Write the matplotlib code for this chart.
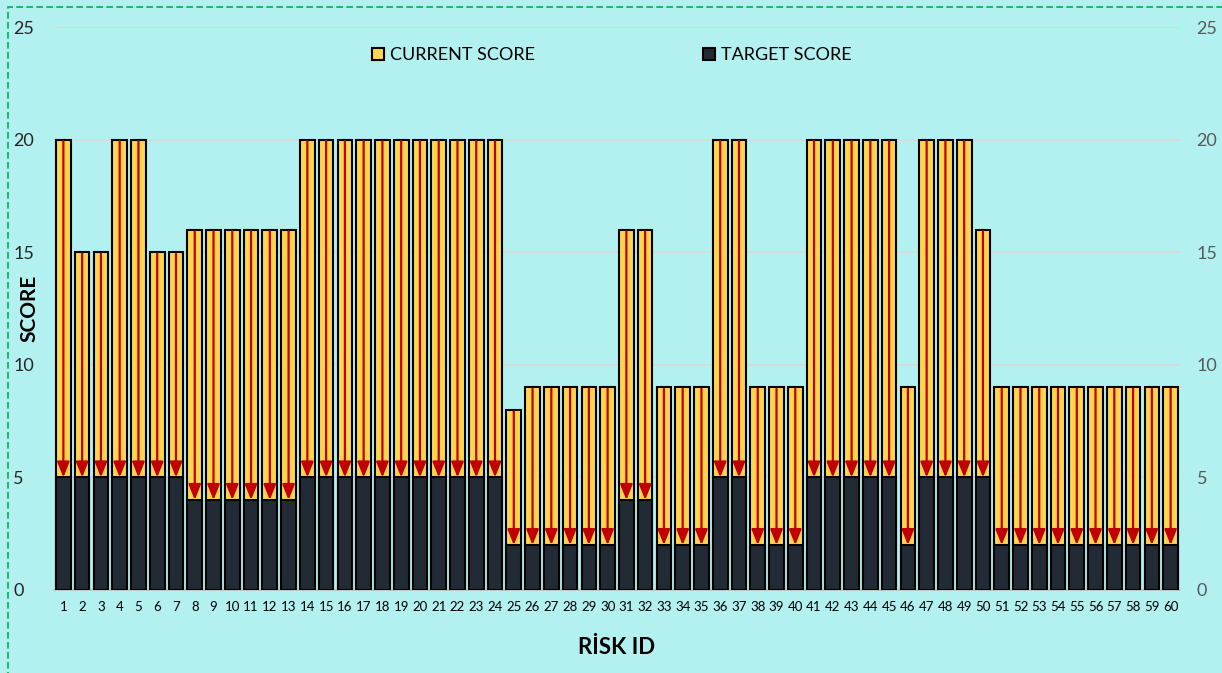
import matplotlib
matplotlib.use("Agg")
import matplotlib.pyplot as plt
from matplotlib.patches import Rectangle, Patch

risk_ids = list(range(1, 61))
current_score = [20, 15, 15, 20, 20, 15, 15, 16, 16, 16, 16, 16, 16,
                 20, 20, 20, 20, 20, 20, 20, 20, 20, 20, 20,
                 8, 9, 9, 9, 9, 9, 16, 16, 9, 9, 9, 20, 20, 9, 9, 9,
                 20, 20, 20, 20, 20, 9, 20, 20, 20, 16,
                 9, 9, 9, 9, 9, 9, 9, 9, 9, 9]
target_score = [5, 5, 5, 5, 5, 5, 5, 4, 4, 4, 4, 4, 4,
                5, 5, 5, 5, 5, 5, 5, 5, 5, 5, 5,
                2, 2, 2, 2, 2, 2, 4, 4, 2, 2, 2, 5, 5, 2, 2, 2,
                5, 5, 5, 5, 5, 2, 5, 5, 5, 5,
                2, 2, 2, 2, 2, 2, 2, 2, 2, 2]
y_ticks = [0, 5, 10, 15, 20, 25]

BG = "#B3F0F0"
YEL = "#FFD54F"
DARK = "#222A35"
RED = "#C00000"
FONT = ["Lato", "DejaVu Sans"]

fig = plt.figure(figsize=(12.22, 6.73), dpi=100, facecolor=BG)
ax = fig.add_axes([54 / 1222, 83 / 673, 1126 / 1222, 563 / 673])
ax.set_facecolor(BG)

x = list(range(len(risk_ids)))
w = 0.78
ax.bar(x, current_score, width=w, color=YEL, edgecolor="black", linewidth=1.5, zorder=2)
ax.bar(x, target_score, width=w, color=DARK, edgecolor="black", linewidth=1.5, zorder=3)
for xi, c, t in zip(x, current_score, target_score):
    ax.annotate("", xy=(xi, t), xytext=(xi, c),
                arrowprops=dict(arrowstyle="-|>,head_length=0.62,head_width=0.25",
                                color=RED, lw=1.6, shrinkA=1, shrinkB=0,
                                mutation_scale=15),
                zorder=4)

ax.set_xlim(-0.5, len(x) - 0.5)
ax.set_ylim(0, 25)
ax.set_yticks(y_ticks)
ax.yaxis.grid(True, color="#D9D9D9", linewidth=1.2, zorder=0)
ax.set_axisbelow(True)
for s in ["top", "right", "left"]:
    ax.spines[s].set_visible(False)
ax.spines["bottom"].set_color("#BFBFBF")
ax.spines["bottom"].set_linewidth(1.2)
ax.tick_params(axis="both", length=0)
ax.set_xticks(x)
ax.set_xticklabels([str(r) for r in risk_ids], fontsize=9.5, family=FONT)
ax.tick_params(axis="x", pad=8)
ax.set_yticklabels([str(v) for v in y_ticks], fontsize=13, family=FONT, color="#262626")
for lbl in ax.get_yticklabels():
    lbl.set_horizontalalignment("left")
ax.tick_params(axis="y", pad=29.5)

ax2 = ax.twinx()
ax2.set_ylim(0, 25)
ax2.set_yticks(y_ticks)
ax2.set_yticklabels([str(v) for v in y_ticks], fontsize=13, family=FONT, color="#595959")
ax2.tick_params(axis="y", length=0, pad=12)
for s in ["top", "right", "left", "bottom"]:
    ax2.spines[s].set_visible(False)

ax.set_ylabel("SCORE", fontsize=15, fontweight="bold", family=FONT)
ax.yaxis.set_label_coords(-0.013, 0.5)
ax.set_xlabel("RİSK ID", fontsize=16, fontweight="bold", family=FONT, labelpad=17)

handles = [Patch(facecolor=YEL, edgecolor="black", linewidth=1.5, label="CURRENT SCORE"),
           Patch(facecolor=DARK, edgecolor="black", linewidth=1.5, label="TARGET SCORE")]
ax.legend(handles=handles, loc="center", bbox_to_anchor=(0.495, 0.95), ncol=2,
          frameon=False, handlelength=0.7, handleheight=0.7, handletextpad=0.3,
          columnspacing=9.3, prop={"family": FONT, "size": 13})

fig.patches.append(Rectangle((8 / 1222, -0.05), 1.2, (666 / 673) + 0.05,
                             transform=fig.transFigure, fill=False,
                             edgecolor="#00B050", linestyle=(0, (4, 2)),
                             linewidth=1.2))

fig.savefig("out.png", dpi=100, facecolor=BG)
